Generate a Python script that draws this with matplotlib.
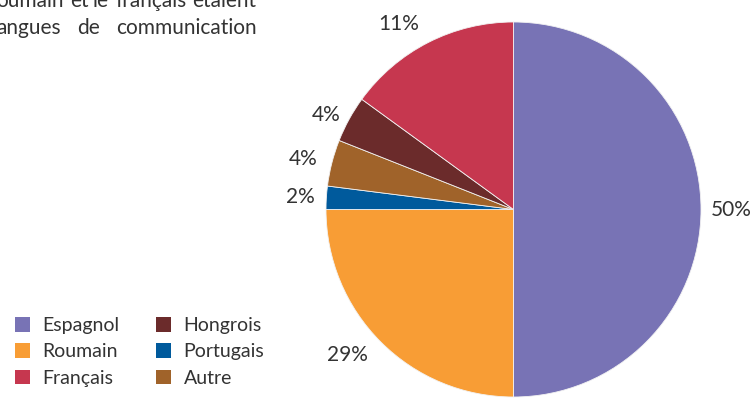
import matplotlib.pyplot as plt
from matplotlib.patches import Patch
import numpy as np

# wedge sizes as drawn in the picture, and the labels printed next to them
languages = ['Espagnol', 'Roumain', 'Portugais', 'Autre', 'Hongrois', 'Français']
shares = [50, 25, 2, 4, 4, 15]
shown = ['50%', '29%', '2%', '4%', '4%', '11%']
colors = ['#7873B5', '#F89D35', '#005A9C', '#A0632A', '#6B2B2B', '#C6374F']
legend_order = ['Espagnol', 'Roumain', 'Français', 'Hongrois', 'Portugais', 'Autre']

# bits of the paragraph cut off at the top left
line1 = ['oumain', 'et', 'le', 'français', 'étaient']
line2 = ['angues', 'de', 'communication']

W, H = 753, 400
txt = '#333333'
plt.rcParams['font.family'] = ['Lato', 'DejaVu Sans']

fig = plt.figure(figsize=(W / 100, H / 100), dpi=100)

# pie: centre (513.5, 209.5) px, radius 187.5 px
ax = fig.add_axes([326 / W, 3 / H, 375 / W, 375 / H])
wedges, texts = ax.pie(shares, labels=shown, colors=colors, startangle=90,
                       counterclock=False, labeldistance=1.1,
                       wedgeprops=dict(edgecolor='#f2f2f2', linewidth=0.6),
                       textprops=dict(fontsize=15, color=txt))
ax.set_xlim(-1, 1)
ax.set_ylim(-1, 1)
ax.set_aspect('equal')

# nudge each label out a bit differently, like the original
dist = [1.05, 1.1, 1.06, 1.08, 1.05, 1.11]
for w, t, d in zip(wedges, texts, dist):
    mid = np.deg2rad((w.theta1 + w.theta2) / 2)
    t.set_position((d * np.cos(mid), d * np.sin(mid)))

# legend, two columns
col = dict(zip(languages, colors))
handles = [Patch(facecolor=col[n], edgecolor='none') for n in legend_order]
fig.legend(handles, legend_order, ncol=2, loc='upper left',
           bbox_to_anchor=(15 / W, 1 - 317 / H), frameon=False,
           borderpad=0, borderaxespad=0, handlelength=0.78, handleheight=0.78,
           handletextpad=0.62, columnspacing=1.9, labelspacing=0.48,
           prop=dict(size=14), labelcolor=txt)

# paragraph fragments (justified, so words placed one by one)
x1 = [-4, 70, 92, 115, 192]
x2 = [-4, 77, 116]
for w, x in zip(line1, x1):
    fig.text(x / W, 1 - 7 / H, w, fontsize=15, color=txt, va='baseline')
for w, x in zip(line2, x2):
    fig.text(x / W, 1 - 34 / H, w, fontsize=15, color=txt, va='baseline')

fig.savefig('out.png', dpi=100)
